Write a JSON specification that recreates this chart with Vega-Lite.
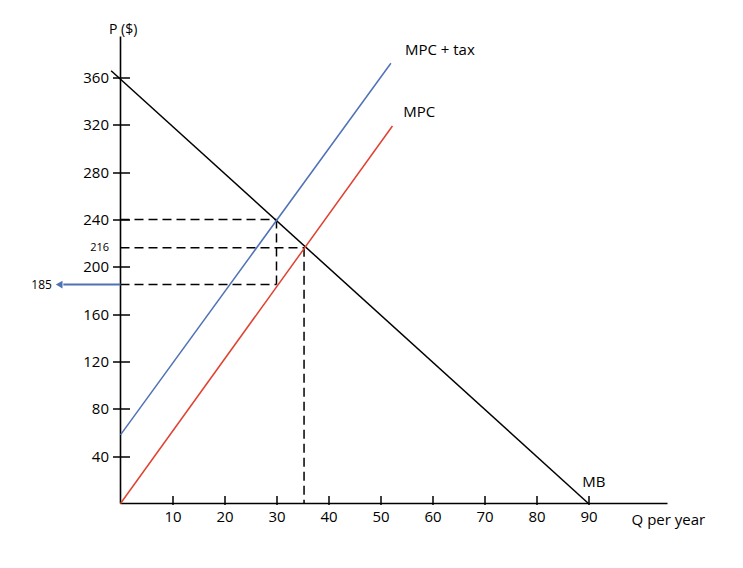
{
  "$schema": "https://vega.github.io/schema/vega-lite/v6.json",
  "width": 547,
  "height": 467,
  "autosize": {"type": "none"},
  "padding": {"left": 120.5, "top": 36.5, "right": 75, "bottom": 64},
  "background": "white",
  "config": {"view": {"stroke": null}, "font": "Open Sans", "axis": {"grid": false, "domain": false}},
  "datasets": {
    "curves": [
      {"name": "MB", "q": -1.8, "p": 365.7, "q2": 90, "p2": 0},
      {"name": "MPC", "q": 0, "p": 0, "q2": 52.3, "p2": 319},
      {"name": "MPC + tax", "q": 0, "p": 58, "q2": 52, "p2": 372}
    ],
    "guides": [
      {"q": 0, "p": 240, "q2": 30, "p2": 240},
      {"q": 30, "p": 240, "q2": 30, "p2": 185},
      {"q": 0, "p": 185, "q2": 30, "p2": 185},
      {"q": 0, "p": 216, "q2": 35.3, "p2": 216},
      {"q": 35.3, "p": 216, "q2": 35.3, "p2": 0}
    ],
    "axislines": [
      {"q": 0, "p": 0, "q2": 0, "p2": 394.6},
      {"q": 0, "p": 0, "q2": 105.2, "p2": 0}
    ],
    "arrow": [{"q": 0, "p": 185, "q2": -11, "p2": 185}],
    "arrowhead": [{"q": -11.8, "p": 185}],
    "labels": [
      {"text": "MPC + tax", "q": 54.7, "p": 383},
      {"text": "MPC", "q": 54.4, "p": 331},
      {"text": "MB", "q": 88.8, "p": 17.8},
      {"text": "Q per year", "q": 98.3, "p": -14}
    ],
    "ptitle": [{"text": "P ($)", "q": 0.5, "p": 400}],
    "callout": [{"text": "185", "q": -13.2, "p": 185}]
  },
  "encoding": {
    "x": {
      "field": "q", "type": "quantitative",
      "scale": {"domain": [0, 105.2], "nice": false, "zero": false},
      "axis": {
        "orient": "bottom", "title": null, "values": [10, 20, 30, 40, 50, 60, 70, 80, 90],
        "offset": -8, "tickSize": 9, "tickWidth": 1.5, "tickColor": "black",
        "labelPadding": 5, "labelFontSize": 15, "labelFont": "Open Sans", "labelColor": "black",
        "domain": false, "grid": false
      }
    },
    "y": {
      "field": "p", "type": "quantitative",
      "scale": {"domain": [0, 394.6], "nice": false, "zero": false},
      "axis": {
        "orient": "left", "title": null, "values": [40, 80, 120, 160, 200, 240, 280, 320, 360, 216],
        "offset": -9, "tickSize": 17, "tickWidth": 1.5, "tickColor": "black",
        "tickOpacity": {"condition": {"test": "datum.value === 216", "value": 0}, "value": 1},
        "labelFontSize": {"condition": {"test": "datum.value === 216", "value": 11}, "value": 15},
        "labelPadding": 4, "labelFont": "Open Sans", "labelColor": "black",
        "domain": false, "grid": false
      }
    }
  },
  "layer": [
    {
      "data": {"name": "axislines"},
      "mark": {"type": "rule", "color": "black", "strokeWidth": 1.6},
      "encoding": {"x2": {"field": "q2"}, "y2": {"field": "p2"}}
    },
    {
      "data": {"name": "guides"},
      "mark": {"type": "rule", "color": "black", "strokeWidth": 1.5, "strokeDash": [9, 5]},
      "encoding": {"x2": {"field": "q2"}, "y2": {"field": "p2"}}
    },
    {
      "data": {"name": "curves"},
      "mark": {"type": "rule", "strokeWidth": 1.5},
      "encoding": {
        "x2": {"field": "q2"}, "y2": {"field": "p2"},
        "color": {"field": "name", "type": "nominal", "legend": null,
          "scale": {"domain": ["MB", "MPC", "MPC + tax"], "range": ["black", "#e0402f", "#4f72b5"]}}
      }
    },
    {
      "data": {"name": "arrow"},
      "mark": {"type": "rule", "color": "#4f72b5", "strokeWidth": 2},
      "encoding": {"x2": {"field": "q2"}, "y2": {"field": "p2"}}
    },
    {
      "data": {"name": "arrowhead"},
      "mark": {"type": "point", "shape": "triangle-left", "filled": true, "color": "#4f72b5", "size": 60, "opacity": 1}
    },
    {
      "data": {"name": "labels"},
      "mark": {"type": "text", "align": "left", "baseline": "middle", "fontSize": 15, "font": "Open Sans", "color": "black"},
      "encoding": {"text": {"field": "text"}}
    },
    {
      "data": {"name": "ptitle"},
      "mark": {"type": "text", "align": "center", "baseline": "middle", "fontSize": 14, "font": "Open Sans", "color": "black"},
      "encoding": {"text": {"field": "text"}}
    },
    {
      "data": {"name": "callout"},
      "mark": {"type": "text", "align": "right", "baseline": "middle", "fontSize": 12, "font": "Open Sans", "color": "black"},
      "encoding": {"text": {"field": "text"}}
    }
  ]
}
